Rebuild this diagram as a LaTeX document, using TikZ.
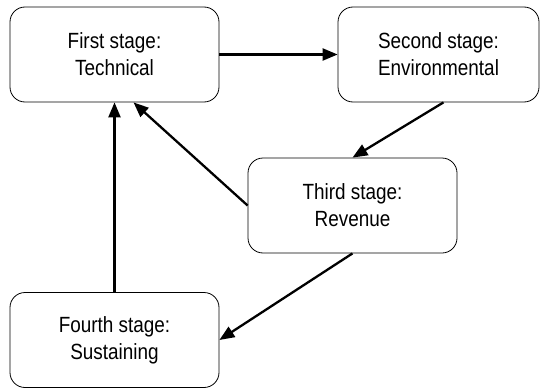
\documentclass[tikz,border=0pt]{standalone}
\usepackage{fontspec}
\setmainfont{Liberation Sans}[FakeStretch=0.86]
\usetikzlibrary{arrows.meta,positioning}
\tikzset{
  stage/.style={draw,rounded corners=15pt,minimum width=209pt,minimum height=95pt,
    inner sep=0pt,align=center,line width=0.8pt,font=\fontsize{22}{27}\selectfont},
  flow/.style={-{Triangle[length=15pt,width=12pt]},line width=2.3pt}
}

\begin{document}
\begin{tikzpicture}[x=1pt,y=-1pt]
\useasboundingbox (0,0) rectangle (541,388);
\node[stage] (tech) at (114.5,54.5) {First stage:\\Technical};
\node[stage,minimum width=201pt] (env) at (438.5,54.5) {Second stage:\\Environmental};
\node[stage] (rev) at (352.5,205.5) {Third stage:\\Revenue};
\node[stage] (sust) at (114.5,340) {Fourth stage:\\Sustaining};
\draw[flow] (tech) -- (env);
\draw[flow] ([xshift=5pt]env.south) -- (rev.north);
\draw[flow] (rev.west) -- ([xshift=19pt]tech.south);
\draw[flow] (sust) -- (tech);
\draw[flow] (rev.south) -- (sust.east);
\end{tikzpicture}
\end{document}
